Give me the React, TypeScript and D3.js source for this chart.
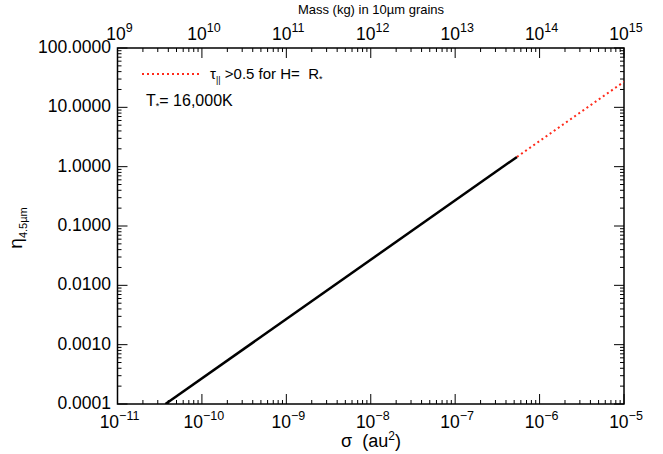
import React from "react";
import * as d3 from "d3";

const W = 663;
const H = 454;

// Data
const solidSigma = [3.7e-11, 5.4e-7];
const solidEta = [1.0e-4, 1.46];
const dottedSigma = [5.4e-7, 1.0e-5];
const dottedEta = [1.46, 27.0];

const xDomain = [1e-11, 1e-5];
const massDomain = [1e9, 1e15];
const yDomain = [1e-4, 100];

const xExponents = [-11, -10, -9, -8, -7, -6, -5];
const massExponents = [9, 10, 11, 12, 13, 14, 15];
const yTickValues = [1e-4, 1e-3, 1e-2, 1e-1, 1, 10, 100];

const FONT = "'Liberation Sans', Arial, Helvetica, sans-serif";

export default function App() {
  const left = 117.5, right = 624, top = 48, bottom = 404;
  const x = d3.scaleLog().domain(xDomain).range([left, right]);
  const xm = d3.scaleLog().domain(massDomain).range([left, right]);
  const y = d3.scaleLog().domain(yDomain).range([bottom, top]);

  const isMajor = (v: number) => Math.abs(Math.log10(v) - Math.round(Math.log10(v))) < 1e-9;
  const xTicks = x.ticks();
  const mTicks = xm.ticks();
  const yTicks = y.ticks();

  const line = d3
    .line<[number, number]>()
    .x((d) => x(d[0]))
    .y((d) => y(d[1]));
  const solid = solidSigma.map((s, i) => [s, solidEta[i]] as [number, number]);
  const dotted = dottedSigma.map((s, i) => [s, dottedEta[i]] as [number, number]);

  const MAJ = 10, MIN = 4;
  const fmt = d3.format(".4f");

  return (
    <svg
      width={W}
      height={H}
      style={{ position: "absolute", left: 0, top: 0, background: "#fff" }}
      fontFamily={FONT}
    >
      <rect x={0} y={0} width={W} height={H} fill="#fff" />
      {xTicks.map((t, i) => {
        const L = isMajor(t) ? MAJ : MIN;
        return (
          <line key={"xb" + i} x1={x(t)} x2={x(t)} y1={bottom} y2={bottom - L} stroke="#000" strokeWidth={1} />
        );
      })}
      {mTicks.map((t, i) => {
        const L = isMajor(t) ? MAJ : MIN;
        return (
          <line key={"xt" + i} x1={xm(t)} x2={xm(t)} y1={top} y2={top + L} stroke="#000" strokeWidth={1} />
        );
      })}
      {yTicks.map((t, i) => {
        const L = isMajor(t) ? MAJ : MIN;
        return (
          <g key={"y" + i}>
            <line x1={left} x2={left + L} y1={y(t)} y2={y(t)} stroke="#000" strokeWidth={1} />
            <line x1={right} x2={right - L} y1={y(t)} y2={y(t)} stroke="#000" strokeWidth={1} />
          </g>
        );
      })}
      <rect x={left} y={top} width={right - left} height={bottom - top} fill="none" stroke="#000" strokeWidth={1.5} />

      {yTickValues.map((v, i) => (
        <text key={"yl" + i} x={111} y={y(v) + 5} textAnchor="end" fontSize={17.5} fill="#000">
          {fmt(v)}
        </text>
      ))}

      {xExponents.map((e, i) => (
        <text key={"bl" + i} x={x(Math.pow(10, e)) + 2} y={428} textAnchor="middle" fontSize={17.5} fill="#000">
          10
          <tspan dy={-8} fontSize={12.5}>{e < 0 ? "\u2212" + Math.abs(e) : String(e)}</tspan>
        </text>
      ))}

      {massExponents.map((e, i) => (
        <text key={"tl" + i} x={xm(Math.pow(10, e)) + 2} y={40} textAnchor="middle" fontSize={17.5} fill="#000">
          10
          <tspan dy={-8} fontSize={12.5}>{String(e)}</tspan>
        </text>
      ))}

      <text x={371} y={14} textAnchor="middle" fontSize={13} fill="#000">
        Mass (kg) in 10µm grains
      </text>
      <text x={371} y={447} textAnchor="middle" fontSize={18} fill="#000">
        σ{"\u00a0\u00a0"}(au<tspan dy={-7} fontSize={12}>2</tspan>
        <tspan dy={7}>)</tspan>
      </text>
      <text transform={`translate(22, 228) rotate(-90)`} textAnchor="middle" fontSize={19} fill="#000">
        η<tspan dy={5} fontSize={11}>4.5µm</tspan>
      </text>

      <clipPath id="plotclip">
        <rect x={left} y={top} width={right - left} height={bottom - top} />
      </clipPath>
      <g clipPath="url(#plotclip)">
        <path d={line(solid) || ""} fill="none" stroke="#000" strokeWidth={2.5} />
        <path d={line(dotted) || ""} fill="none" stroke="#ff2a1a" strokeWidth={2} strokeDasharray="2 3" />
      </g>

      <line x1={142} x2={200} y1={74} y2={74} stroke="#ff2a1a" strokeWidth={2} strokeDasharray="2 3" />
      <text x={210} y={79} fontSize={15} fill="#000">
        τ<tspan dy={4} fontSize={9}>||</tspan>
        <tspan dy={-4}>{" >0.5 for H=\u00a0\u00a0R"}</tspan>
        <tspan dy={3} fontSize={9}>*</tspan>
      </text>
      <text x={146} y={106} fontSize={16} fill="#000">
        T<tspan dy={3} fontSize={9}>*</tspan>
        <tspan dy={-3}>= 16,000K</tspan>
      </text>
    </svg>
  );
}
